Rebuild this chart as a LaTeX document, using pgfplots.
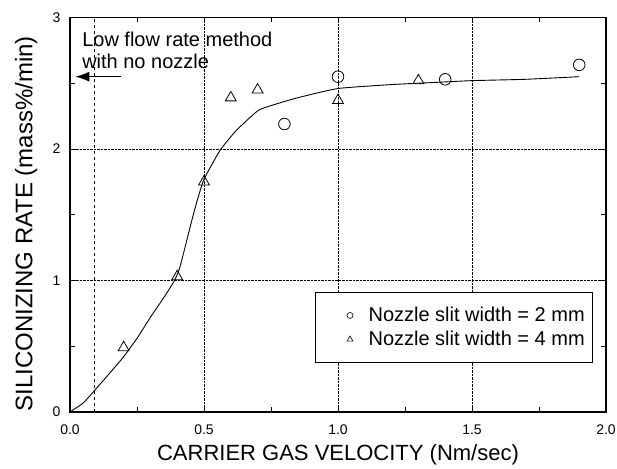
\documentclass[border=0pt]{standalone}
\usepackage{fontspec}
\setmainfont{Liberation Sans}
\usepackage{pgfplots}
\pgfplotsset{compat=1.18}
\usetikzlibrary{arrows.meta}
\begin{document}
\begin{tikzpicture}
\begin{axis}[
 scale only axis, width=536pt, height=394.5pt,
 xmin=0, xmax=2, ymin=0, ymax=3,
 xtick={0,0.5,1,1.5,2}, ytick={0,1,2,3},
 xticklabels={0.0,0.5,1.0,1.5,2.0}, yticklabels={0,1,2,3},
 minor xtick={0.25,0.75,1.25,1.75}, minor ytick={0.5,1.5,2.5},
 grid=major, major grid style={black, densely dotted, line width=0.6pt},
 axis line style={line width=1.3pt},
 tick style={black, line width=0.8pt}, major tick length=6pt, minor tick length=5pt,
 /pgf/number format/assume math mode=true,
 tick label style={font=\fontsize{14}{16}\selectfont},
 xticklabel style={yshift=-9pt},
 yticklabel style={xshift=-6pt},
 xlabel={CARRIER GAS VELOCITY (Nm/sec)},
 ylabel={SILICONIZING RATE (mass\%/min)},
 xlabel style={font=\fontsize{22}{24}\selectfont, at={(axis description cs:0.5,-0.109)}, anchor=center},
 ylabel style={font=\fontsize{24}{26}\selectfont, at={(axis description cs:-0.082,0.477)}, anchor=center},
 legend style={at={(0.976,0.304)}, anchor=north east, draw=black, line width=0.8pt, fill=white,
   font=\fontsize{20}{22}\selectfont, inner xsep=6pt, inner ysep=13pt, row sep=4pt},
 legend cell align=left,
]
% dashed reference line
\addplot[forget plot, black, dashed, line width=0.8pt] coordinates {(0.09,0) (0.09,3)};
% fitted curve
\addplot[forget plot, black, line width=0.9pt, smooth, tension=0.3] coordinates {
 (0,0) (0.05,0.07) (0.09,0.16) (0.15,0.3) (0.2,0.42) (0.25,0.56) (0.3,0.72) (0.35,0.87)
 (0.39,1.0) (0.41,1.1) (0.435,1.3) (0.455,1.46) (0.475,1.61) (0.5,1.77) (0.56,1.99)
 (0.62,2.14) (0.7,2.29) (0.75,2.33) (0.85,2.39) (1.0,2.46) (1.2,2.49) (1.4,2.51)
 (1.5,2.52) (1.7,2.53) (1.9,2.55)};
% 2 mm circles
\addplot[forget plot, only marks, mark=o, mark size=5.8pt, black, line width=0.8pt] coordinates {
 (0.8,2.19) (1.0,2.55) (1.4,2.53) (1.9,2.64)};
% 4 mm triangles
\addplot[forget plot, only marks, mark=triangle, mark size=6.3pt, black, line width=0.8pt] coordinates {
 (0.2,0.49) (0.4,1.03) (0.5,1.75) (0.6,2.39) (0.7,2.45) (1.0,2.37) (1.3,2.52)};
\addlegendimage{legend image code/.code={\path[draw=none] (0,0) -- (1.3cm,0);
   \path[draw=none] plot[mark=o, mark size=3pt, mark options={draw=black, line width=0.6pt, fill=none}] coordinates {(1.0cm,0)};}}
\addlegendentry{\hspace{8pt}Nozzle slit width = 2 mm}
\addlegendimage{legend image code/.code={\path[draw=none] (0,0) -- (1.3cm,0);
   \path[draw=none] plot[mark=triangle, mark size=3.4pt, mark options={draw=black, line width=0.6pt, fill=none}] coordinates {(1.0cm,0)};}}
\addlegendentry{\hspace{8pt}Nozzle slit width = 4 mm}
\node[anchor=north west, align=left, inner sep=0pt, font=\fontsize{20}{22}\selectfont]
  at (axis cs:0.045,2.89) {Low flow rate method\\with no nozzle};
\draw[black, line width=1.1pt, -{Latex[length=14pt,width=10pt]}] (axis cs:0.19,2.55) -- (axis cs:0.02,2.55);
\end{axis}
\pgfresetboundingbox
\path[use as bounding box] ([xshift=-70pt,yshift=-56pt]current axis.south west) rectangle ([xshift=11pt,yshift=17.5pt]current axis.north east);
\end{tikzpicture}
\end{document}
